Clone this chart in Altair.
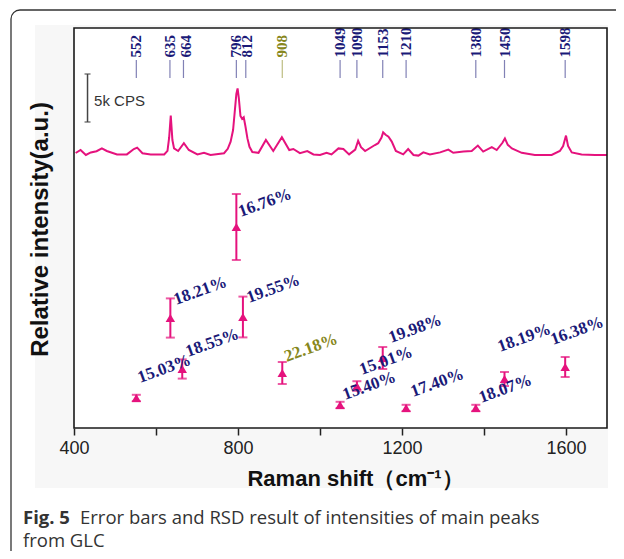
import altair as alt
import pandas as pd

# ---------------- data ----------------
# Raman spectrum (upper trace)
spec_x = [404, 416, 429, 441, 455, 468, 480, 505, 529, 546, 554, 567, 587, 620, 628, 632,
          636, 640, 644, 654, 668, 680, 701, 717, 733, 766, 775, 782, 788, 792, 796, 799,
          802, 806, 810, 814, 818, 823, 828, 835, 850, 868, 886, 907, 925, 935, 951, 969,
          984, 1000, 1016, 1028, 1045, 1057, 1071, 1086, 1093, 1100, 1110, 1134, 1142, 1150,
          1154, 1160, 1167, 1175, 1185, 1203, 1215, 1228, 1240, 1252, 1268, 1293, 1313,
          1325, 1350, 1370, 1385, 1398, 1419, 1431, 1445, 1451, 1458, 1468, 1492, 1524,
          1565, 1585, 1593, 1600, 1605, 1614, 1638, 1671, 1700]
spec_y = [68.75, 69.5, 68.25, 68.9, 69.2, 69.9, 69.25, 68.4, 68.4, 69.75, 70.1, 68.7, 68.4,
          68.4, 69.3, 72.5, 78.1, 72.0, 69.9, 69.25, 71.2, 69.5, 68.4, 68.8, 68.25, 68.7,
          69.8, 71.6, 74.5, 79.0, 83.5, 84.9, 82.5, 78.0, 77.3, 77.7, 75.5, 72.4, 70.3,
          69.0, 68.8, 72.0, 69.25, 72.7, 69.5, 69.75, 68.7, 69.25, 68.4, 68.25, 68.8, 68.4,
          69.9, 69.75, 68.4, 69.6, 71.8, 70.2, 69.25, 70.75, 71.2, 72.6, 73.9, 73.3, 72.8,
          71.6, 69.25, 68.4, 69.75, 68.25, 68.1, 68.9, 68.4, 68.9, 69.6, 68.8, 69.1, 69.25,
          70.6, 69.1, 70.2, 69.5, 71.3, 72.4, 70.8, 69.9, 68.8, 68.25, 68.25, 69.25, 70.5,
          73.1, 70.5, 68.9, 68.4, 68.25, 68.25]

# main peaks
peaks = [552, 635, 664, 796, 812, 908, 1049, 1090, 1153, 1210, 1380, 1450, 1598]
peak_names = ["552", "635", "664", "796", "812", "908", "1049", "1090", "1153", "1210",
              "1380", "1450", "1598"]
peak_group = ["n", "n", "n", "n", "n", "h", "n", "n", "n", "n", "n", "n", "n"]
# where the peak tags (tick line / rotated number) sit on the x axis
tag_x = [552, 634, 667, 796, 819, 908, 1049, 1090, 1153, 1210, 1380, 1450, 1598]
tag_tx = [552, 634, 673, 795, 823, 908, 1049, 1090, 1153, 1210, 1380, 1450, 1598]

# mean intensity and error (relative units) of each main peak
means = [7.5, 27.5, 14.75, 50.25, 27.75, 13.75, 5.75, 10.5, 17.5, 5.0, 5.0, 12.25, 15.25]
errs = [0.8, 4.9, 2.4, 8.25, 5.1, 2.75, 0.8, 1.2, 2.75, 0.8, 0.8, 1.75, 2.5]
rsd = ["15.03%", "18.21%", "18.55%", "16.76%", "19.55%", "22.18%", "15.40%", "15.01%",
       "19.98%", "17.40%", "18.07%", "18.19%", "16.38%"]

# where each RSD label sits (data units)
lab_x = [561, 649, 678, 807, 827, 919, 1061, 1102, 1173, 1227, 1393, 1439, 1568]
lab_y = [11.25, 30.75, 17.75, 52.75, 31.25, 16.5, 7.0, 13.25, 21.25, 7.75, 6.25, 19.0, 20.75]

# scale bar (5k CPS)
bar_x = [433]
bar_lo = [76.5]
bar_hi = [88.5]

# ---------------- frames ----------------
spec_df = pd.DataFrame({"x": spec_x, "y": spec_y})
pk_df = pd.DataFrame({"x": peaks, "name": peak_names, "grp": peak_group,
                      "tx": tag_x, "ttx": tag_tx,
                      "m": means, "lo": [a - b for a, b in zip(means, errs)],
                      "hi": [a + b for a, b in zip(means, errs)],
                      "rsd": rsd, "lx": lab_x, "ly": lab_y})
bar_df = pd.DataFrame({"x": bar_x, "lo": bar_lo, "hi": bar_hi})
one = alt.Data(values=[{"a": 1}])

W, H = 533, 400
MAG = "#e5127d"
NAVY = "#1a1a78"
OLIVE = "#87871c"

xaxis = alt.Axis(title="Raman shift（cm⁻¹）", values=[400, 600, 800, 1000, 1200, 1400, 1600],
                 labelExpr="datum.value % 400 == 0 ? datum.label : ''", format="d",
                 labelFlush=False,
                 tickSize=7, tickColor="#222", tickWidth=1.5, domain=False, grid=False,
                 labelFont="Liberation Sans", labelFontSize=18, labelColor="#222",
                 labelPadding=4, titleFont="Liberation Sans", titleFontSize=22,
                 titleFontWeight="bold", titleColor="#111", titleX=281, titleY=50,
                 titleAlign="center", titleBaseline="middle", zindex=1)
yaxis = alt.Axis(title="Relative intensity(a.u.)", labels=False, ticks=False, domain=False,
                 grid=False, titleFont="Liberation Sans", titleFontSize=24,
                 titleFontWeight="bold", titleColor="#111", titleAngle=270, titleX=-34,
                 titleY=201, titleAlign="center", titleBaseline="middle", zindex=1)

xs = alt.Scale(domain=[400, 1700], nice=False, zero=False)
ys = alt.Scale(domain=[0, 100], nice=False, zero=False)


def X(f="x"):
    return alt.X(f"{f}:Q", scale=xs, axis=xaxis)


def Y(f):
    return alt.Y(f"{f}:Q", scale=ys, axis=yaxis)


col = alt.Color("grp:N", scale=alt.Scale(domain=["n", "h"], range=[NAVY, OLIVE]), legend=None)

bg = alt.Chart(one).mark_rect(fill="#f7f7f7").encode(
    x=alt.value(-39), x2=alt.value(534), y=alt.value(-3), y2=alt.value(460))
plotbg = alt.Chart(one).mark_rect(fill="white").encode(
    x=alt.value(0), x2=alt.value(W), y=alt.value(0), y2=alt.value(H))

spectrum = alt.Chart(spec_df).mark_line(color=MAG, strokeWidth=2).encode(x=X(), y=Y("y"))

peak_rules = alt.Chart(pk_df).mark_rule(strokeWidth=1.2, opacity=0.55).encode(
    x=X("tx"), y=Y("y1"), y2="y2:Q", color=col).transform_calculate(y1="87.5", y2="92.0")
peak_text = alt.Chart(pk_df).mark_text(angle=270, align="left", baseline="middle",
                                       font="Liberation Serif", fontSize=15,
                                       fontWeight="bold").encode(
    x=X("ttx"), y=Y("ty"), text="name:N", color=col).transform_calculate(ty="92.6")

err_rule = alt.Chart(pk_df).mark_rule(color=MAG, strokeWidth=2).encode(
    x=X(), y=Y("lo"), y2="hi:Q")
cap_lo = alt.Chart(pk_df).mark_tick(color=MAG, orient="horizontal", size=9, thickness=2).encode(
    x=X(), y=Y("lo"))
cap_hi = alt.Chart(pk_df).mark_tick(color=MAG, orient="horizontal", size=9, thickness=2).encode(
    x=X(), y=Y("hi"))
pts = alt.Chart(pk_df).mark_point(shape="triangle-up", filled=True, size=90, color=MAG,
                                  opacity=1).encode(x=X(), y=Y("m"))

rsd_text = alt.Chart(pk_df).mark_text(angle=340, align="left", baseline="alphabetic",
                                      font="Liberation Serif", fontSize=17,
                                      fontWeight="bold").encode(
    x=X("lx"), y=Y("ly"), text="rsd:N", color=col)

sbar = alt.Chart(bar_df).mark_rule(color="#444", strokeWidth=1.5).encode(
    x=X(), y=Y("lo"), y2="hi:Q")
sbar_lo = alt.Chart(bar_df).mark_tick(color="#444", orient="horizontal", size=6,
                                      thickness=1.5).encode(x=X(), y=Y("lo"))
sbar_hi = alt.Chart(bar_df).mark_tick(color="#444", orient="horizontal", size=6,
                                      thickness=1.5).encode(x=X(), y=Y("hi"))
sbar_txt = alt.Chart(bar_df).mark_text(text="5k CPS", align="left", baseline="middle",
                                       font="Liberation Sans", fontSize=15,
                                       color="#333").encode(
    x=X("tx"), y=Y("ty")).transform_calculate(tx="449", ty="81.75")

frame = alt.Chart(one).mark_rect(filled=False, stroke="#1a1a1a", strokeWidth=1.6).encode(
    x=alt.value(0), x2=alt.value(W), y=alt.value(0), y2=alt.value(H))

outer = alt.Chart(one).mark_rect(filled=False, stroke="#333", strokeWidth=1.3,
                                 cornerRadius=9).encode(
    x=alt.value(-63), x2=alt.value(620), y=alt.value(-18), y2=alt.value(536))

cap1 = alt.Chart(one).mark_text(text="Fig. 5", align="left", baseline="alphabetic",
                                font="Open Sans", fontSize=18.5, fontWeight="bold",
                                color="#333").encode(x=alt.value(-51), y=alt.value(496))
cap2 = alt.Chart(one).mark_text(text="Error bars and RSD result of intensities of main peaks",
                                align="left", baseline="alphabetic", font="Open Sans",
                                fontSize=18.5, color="#333").encode(
    x=alt.value(6), y=alt.value(496))
cap3 = alt.Chart(one).mark_text(text="from GLC", align="left", baseline="alphabetic",
                                font="Open Sans", fontSize=18.5, color="#333").encode(
    x=alt.value(-51), y=alt.value(519))

chart = alt.layer(
    bg, plotbg, spectrum, peak_rules, peak_text, err_rule, cap_lo, cap_hi, pts, rsd_text,
    sbar, sbar_lo, sbar_hi, sbar_txt, frame, outer, cap1, cap2, cap3
).properties(
    width=W, height=H,
    padding={"left": 66, "top": 20, "right": 9, "bottom": 123},
    autosize=alt.AutoSizeParams(type="none"),
    background="white",
).configure_view(stroke=None)

chart.save("out.html", embed_options={"renderer": "svg", "actions": False})
